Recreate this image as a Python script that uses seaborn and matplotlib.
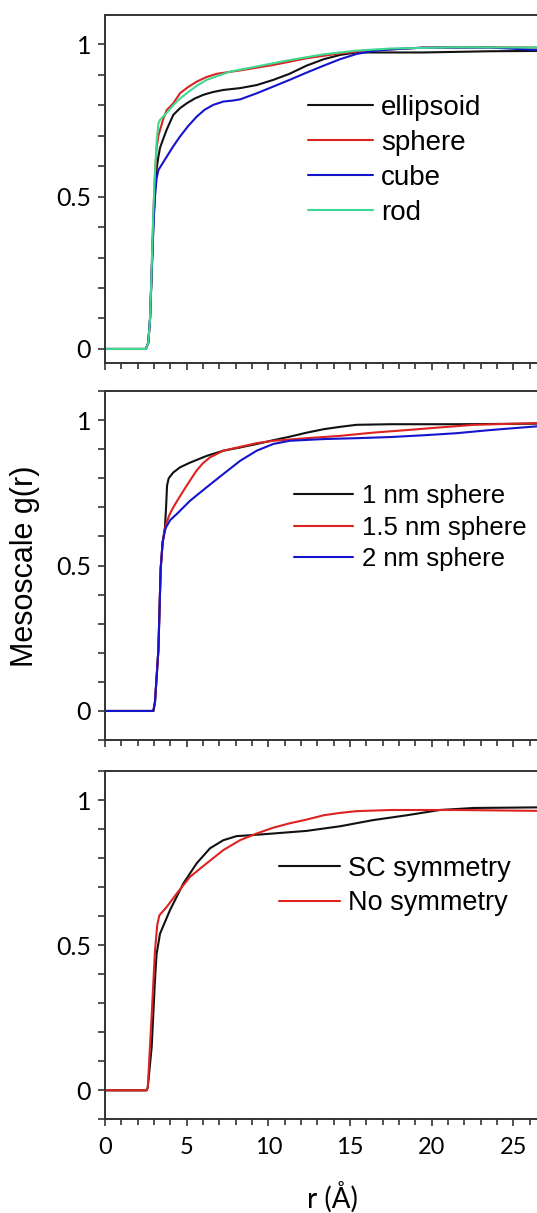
import matplotlib
matplotlib.use("Agg")
import matplotlib.pyplot as plt
from matplotlib.ticker import MultipleLocator, NullFormatter
import pandas as pd
import seaborn as sns

sns.set_style("ticks")
plt.rcParams["font.family"] = ["Lato", "DejaVu Sans"]
plt.rcParams["text.color"] = "black"
plt.rcParams["xtick.labelcolor"] = "black"
plt.rcParams["ytick.labelcolor"] = "black"

# ---- panel 1: particle shape ----
shape_labels = ["ellipsoid", "sphere", "cube", "rod"]
shape_colors = ["#111111", "#dd2222", "#1414cc", "#3fd890"]

ellipsoid_r = [0, 2.5, 2.65, 2.76, 2.86, 2.96, 3.06, 3.16, 3.27, 3.37, 3.57, 3.78, 4.18, 4.59, 5.0,
               5.5, 6.02, 6.6, 7.25, 8.27, 9.29, 10.3, 11.3, 12.35, 13.4, 14.4, 15.4, 16.4, 19.5,
               23.6, 26.5]
ellipsoid_g = [0, 0, 0.02, 0.1, 0.25, 0.4, 0.52, 0.59, 0.631, 0.66, 0.69, 0.72, 0.768, 0.79, 0.806,
               0.822, 0.834, 0.843, 0.850, 0.856, 0.866, 0.883, 0.903, 0.930, 0.951, 0.965, 0.973,
               0.973, 0.973, 0.977, 0.978]

sphere_r = [0, 2.5, 2.65, 2.76, 2.86, 2.96, 3.06, 3.16, 3.27, 3.37, 3.57, 3.78, 4.18, 4.59, 5.1,
            5.61, 6.2, 6.84, 7.6, 8.27, 10.3, 12.35, 14.4, 16.0, 17.5, 19.5, 23.6, 26.5]
sphere_g = [0, 0, 0.02, 0.1, 0.26, 0.44, 0.57, 0.66, 0.70, 0.719, 0.755, 0.784, 0.806, 0.839, 0.860,
            0.877, 0.892, 0.903, 0.909, 0.914, 0.932, 0.954, 0.970, 0.979, 0.983, 0.989, 0.990, 0.989]

cube_r = [0, 2.5, 2.65, 2.76, 2.86, 2.96, 3.06, 3.16, 3.27, 3.5, 3.78, 4.18, 4.59, 5.1, 5.61, 6.1,
          6.63, 7.25, 7.8, 8.27, 9.29, 10.3, 11.3, 12.35, 13.4, 14.4, 15.4, 16.4, 17.5, 19.5, 23.6, 26.5]
cube_g = [0, 0, 0.02, 0.1, 0.25, 0.4, 0.5, 0.56, 0.587, 0.607, 0.631, 0.665, 0.697, 0.732, 0.762,
          0.785, 0.801, 0.812, 0.815, 0.819, 0.839, 0.861, 0.883, 0.907, 0.930, 0.951, 0.968, 0.978,
          0.983, 0.989, 0.989, 0.981]

rod_r = [0, 2.5, 2.65, 2.76, 2.86, 2.96, 3.06, 3.16, 3.27, 3.37, 3.78, 4.18, 4.6, 5.0, 5.6, 6.22, 7.65,
         9.29, 11.3, 13.4, 15.4, 17.5, 21.5, 26.5]
rod_g = [0, 0, 0.02, 0.1, 0.27, 0.45, 0.58, 0.68, 0.74, 0.752, 0.775, 0.80, 0.822, 0.839, 0.863,
         0.883, 0.910, 0.927, 0.948, 0.967, 0.979, 0.986, 0.990, 0.989]

# ---- panel 2: sphere size ----
size_labels = ["1 nm sphere", "1.5 nm sphere", "2 nm sphere"]
size_colors = ["#111111", "#dd2222", "#1414cc"]

nm1_r = [0, 2.96, 3.06, 3.27, 3.41, 3.53, 3.67, 3.74, 3.8, 3.9, 4.18, 4.6, 5.21, 6.22, 7.25, 8.27,
         9.29, 10.3, 11.3, 12.35, 13.4, 14.4, 15.4, 17.5, 21.5, 26.5]
nm1_g = [0, 0, 0.03, 0.21, 0.49, 0.58, 0.63, 0.70, 0.775, 0.80, 0.820, 0.838, 0.854, 0.877, 0.895,
         0.906, 0.918, 0.931, 0.943, 0.957, 0.969, 0.977, 0.984, 0.986, 0.986, 0.988]

nm15_r = [0, 2.96, 3.06, 3.27, 3.41, 3.53, 3.67, 3.74, 3.95, 4.18, 4.5, 4.8, 5.2, 5.6, 6.0, 6.43,
          7.25, 8.27, 9.29, 10.3, 12.35, 14.4, 16.4, 18.5, 20.5, 22.6, 26.5]
nm15_g = [0, 0, 0.03, 0.21, 0.49, 0.58, 0.625, 0.643, 0.675, 0.700, 0.730, 0.757, 0.792, 0.826,
          0.852, 0.872, 0.895, 0.908, 0.921, 0.929, 0.938, 0.946, 0.957, 0.966, 0.975, 0.984, 0.990]

nm2_r = [0, 2.96, 3.06, 3.27, 3.41, 3.53, 3.67, 3.74, 4.0, 4.39, 5.21, 6.22, 7.25, 8.27, 9.29, 10.3,
         11.3, 13.4, 15.4, 17.5, 19.5, 21.5, 23.6, 26.5]
nm2_g = [0, 0, 0.03, 0.21, 0.49, 0.58, 0.62, 0.632, 0.657, 0.677, 0.723, 0.769, 0.815, 0.860, 0.895,
         0.918, 0.929, 0.935, 0.938, 0.942, 0.948, 0.955, 0.966, 0.979]

# ---- panel 3: symmetry ----
sym_labels = ["SC symmetry", "No symmetry"]
sym_colors = ["#111111", "#dd2222"]

sc_r = [0, 2.55, 2.62, 2.86, 3.06, 3.16, 3.37, 3.98, 4.8, 5.61, 6.43, 7.25, 8.06, 8.88, 10.3,
        12.35, 14.4, 16.4, 18.5, 20.5, 22.6, 26.5]
sc_g = [0, 0, 0.01, 0.15, 0.38, 0.47, 0.54, 0.621, 0.713, 0.782, 0.834, 0.862, 0.876, 0.879, 0.885,
        0.894, 0.910, 0.931, 0.948, 0.966, 0.973, 0.975]

nosym_r = [0, 2.55, 2.62, 2.86, 3.06, 3.2, 3.33, 3.78, 4.39, 5.21, 6.22, 7.25, 8.27, 9.29, 10.3,
           11.3, 12.35, 13.4, 14.4, 15.4, 17.5, 21.5, 26.5]
nosym_g = [0, 0, 0.01, 0.26, 0.48, 0.57, 0.603, 0.632, 0.678, 0.736, 0.782, 0.828, 0.862, 0.885, 0.905,
           0.920, 0.933, 0.948, 0.956, 0.962, 0.966, 0.966, 0.963]


def make_df(rs, gs, labels):
	parts = []
	for r, g, lab in zip(rs, gs, labels):
		parts.append(pd.DataFrame({"r": r, "g": g, "label": lab}))
	return pd.concat(parts, ignore_index=True)


panels = [
	dict(df=make_df([ellipsoid_r, sphere_r, cube_r, rod_r], [ellipsoid_g, sphere_g, cube_g, rod_g], shape_labels),
		 labels=shape_labels, colors=shape_colors, rect=[0.1955, 0.7005, 0.8045, 0.2874],
		 ylim=(-0.047, 1.097), leg_xy=(308, 160.5), leg_fs=20, leg_sp=0.32, leg_hl=2.34, leg_tp=0.29),
	dict(df=make_df([nm1_r, nm15_r, nm2_r], [nm1_g, nm15_g, nm2_g], size_labels),
		 labels=size_labels, colors=size_colors, rect=[0.1955, 0.3899, 0.8045, 0.2877],
		 ylim=(-0.10, 1.10), leg_xy=(294, 527.5), leg_fs=18.5, leg_sp=0.31, leg_hl=2.3, leg_tp=0.35),
	dict(df=make_df([sc_r, nosym_r], [sc_g, nosym_g], sym_labels),
		 labels=sym_labels, colors=sym_colors, rect=[0.1955, 0.0772, 0.8045, 0.2871],
		 ylim=(-0.10, 1.10), leg_xy=(279, 886), leg_fs=19.5, leg_sp=0.32, leg_hl=2.25, leg_tp=0.3),
]

W, H = 537, 1213
fig = plt.figure(figsize=(W / 100, H / 100), dpi=100)

for i, p in enumerate(panels):
	ax = fig.add_axes(p["rect"])
	sns.lineplot(data=p["df"], x="r", y="g", hue="label", hue_order=p["labels"],
				 palette=p["colors"], estimator=None, sort=False, lw=1.5, ax=ax)
	ax.set_xlim(0, 26.45)
	ax.set_ylim(*p["ylim"])
	ax.set_xlabel("")
	ax.set_ylabel("")
	ax.spines["right"].set_visible(False)
	for s in ["left", "top", "bottom"]:
		ax.spines[s].set_color("#333333")
		ax.spines[s].set_linewidth(1.4)
	ax.xaxis.set_major_locator(MultipleLocator(5))
	ax.xaxis.set_minor_locator(MultipleLocator(1))
	ax.yaxis.set_minor_locator(MultipleLocator(0.1))
	ax.set_yticks([0, 0.5, 1])
	ax.set_yticklabels(["0", "0.5", "1"])
	ax.tick_params(axis="y", which="both", direction="out", length=5, width=1.2,
				   color="#333333", labelsize=18, pad=5)
	ax.tick_params(axis="x", which="major", direction="out", length=5, width=1.2,
				   color="#333333", labelsize=17, pad=8)
	ax.tick_params(axis="x", which="minor", direction="out", length=4, width=1.2, color="#333333")
	if i < 2:
		ax.xaxis.set_major_formatter(NullFormatter())

	old = ax.get_legend()
	handles = old.legend_handles
	texts = [t.get_text() for t in old.get_texts()]
	lx, ly = p["leg_xy"]
	ax.legend(handles, texts, loc="center left", bbox_to_anchor=(lx / W, 1 - ly / H),
			  bbox_transform=fig.transFigure, frameon=False, borderpad=0, borderaxespad=0,
			  prop={"family": "Liberation Sans", "size": p["leg_fs"]},
			  labelspacing=p["leg_sp"], handlelength=p["leg_hl"], handletextpad=p["leg_tp"])

fig.text(25 / W, 1 - 566 / H, "Mesoscale g(r)", rotation=90, ha="center", va="center",
		 family="Liberation Sans", fontsize=22)
fig.text(332 / W, 1 - 1197 / H, "r (Å)", ha="center", va="center", fontsize=20)

plt.savefig("out.png", dpi=100)
plt.close()
